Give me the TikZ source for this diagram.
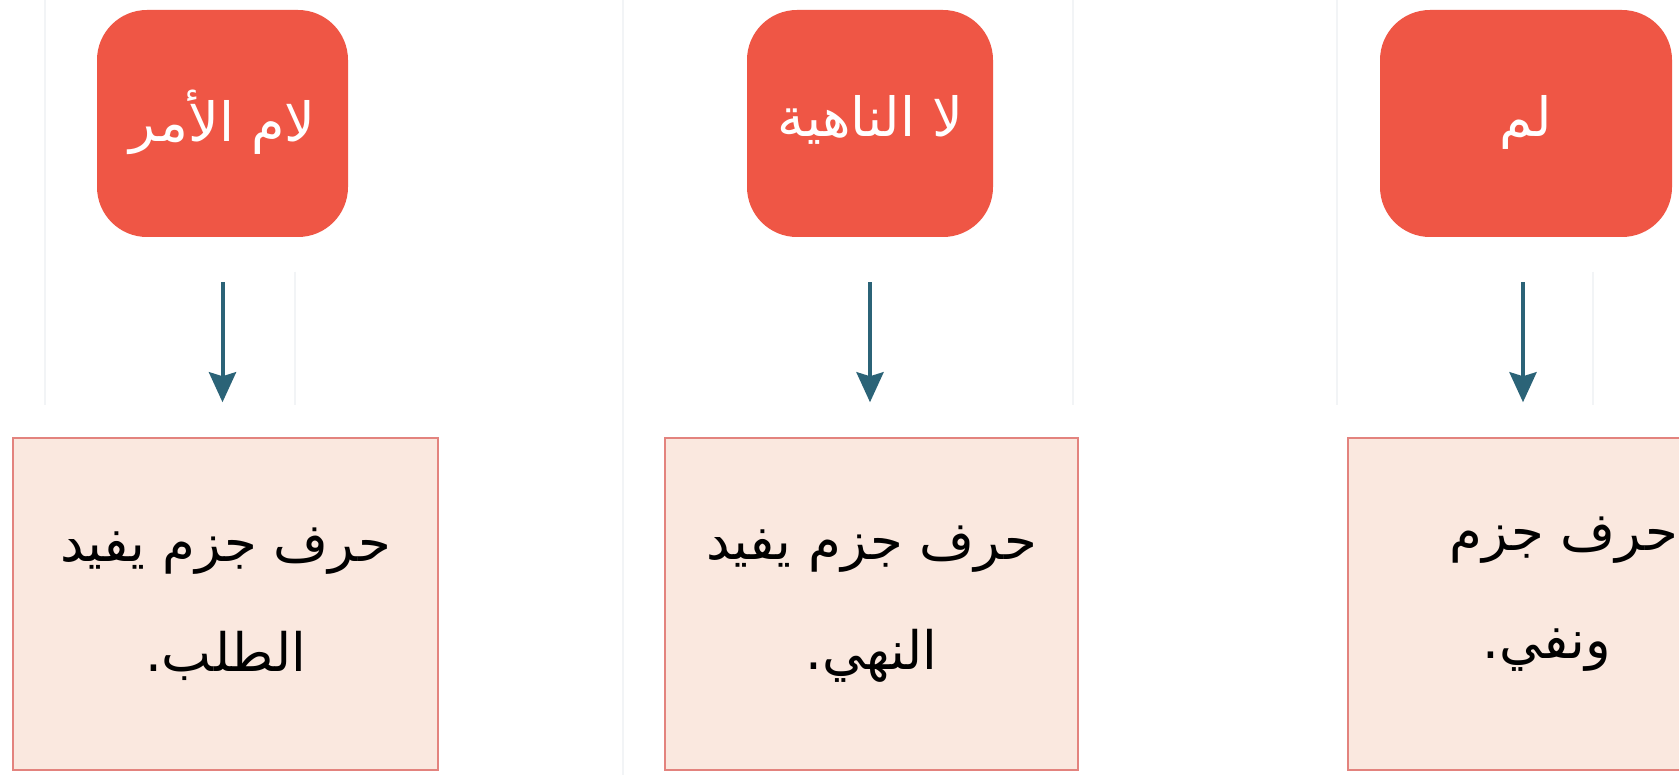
\documentclass[tikz,border=0pt]{standalone}
\usepackage{fontspec}
\newfontfamily\arabicfont[Script=Arabic]{DejaVu Sans}
\TeXXeTstate=1
\usetikzlibrary{arrows.meta}
\definecolor{topred}{HTML}{EF5645}
\definecolor{arrteal}{HTML}{2B6377}
\definecolor{boxfill}{HTML}{FAE8DF}
\definecolor{boxline}{HTML}{E3837E}
\definecolor{panel}{HTML}{F2F4F6}
\tikzset{
  topbox/.style={fill=topred, draw=none, rounded corners=50pt, minimum height=227pt, inner sep=0pt,
    text=white, font=\arabicfont\fontsize{54}{60}\selectfont},
  infotext/.style={font=\arabicfont\fontsize{53}{110}\selectfont},
  infobox/.style={fill=boxfill, draw=boxline, line width=1.5pt, minimum height=332pt, inner sep=0pt,
    text=black, align=center, infotext},
  flowarrow/.style={draw=arrteal, line width=4pt, -{Stealth[length=30pt,width=27pt,inset=4pt]}},
  panelline/.style={draw=panel, line width=1.5pt}
}
\begin{document}
\begin{tikzpicture}[x=1pt,y=-1pt]
\useasboundingbox (0,0) rectangle (1679,775);
\clip (0,0) rectangle (1679,775);
\fill[white] (0,0) rectangle (1679,775);
% faint panel lines
\draw[panelline] (45,0) -- (45,405);
\draw[panelline] (295,272) -- (295,405);
\draw[panelline] (623,0) -- (623,775);
\draw[panelline] (1073,0) -- (1073,405);
\draw[panelline] (1337,0) -- (1337,405);
\draw[panelline] (1593,272) -- (1593,405);
% top boxes
\node[topbox, minimum width=251pt] (t1) at (222.5,123.5) {\raisebox{15pt}{\beginR لام الأمر\endR}};
\node[topbox, minimum width=246pt] (t2) at (870,123.5) {\raisebox{15pt}{\beginR لا الناهية\endR}};
\node[topbox, minimum width=292pt] (t3) at (1526,123.5) {\raisebox{15pt}{\beginR لم\endR}};
% bottom boxes
\node[infobox, minimum width=425pt] (b1) at (225.5,604) {\beginR حرف جزم يفيد\endR\\\beginR الطلب.\endR};
\node[infobox, minimum width=413pt] (b2) at (871.5,604) {\beginR حرف جزم يفيد\endR\\\beginR النهي.\endR};
\node[infobox, minimum width=413pt] (b3) at (1554.5,604) {};
\node[anchor=east, infotext, inner xsep=0pt] (b3a) at (1678,540) {\beginR حرف جزم\endR};
\node[infotext] (b3b) at (1547,650) {\beginR ونفي.\endR};
% arrows
\draw[flowarrow, shorten <=45pt, shorten >=35pt] (t1.south) -- (t1.south |- b1.north);
\draw[flowarrow, shorten <=45pt, shorten >=35pt] (t2.south) -- (t2.south |- b2.north);
\draw[flowarrow, shorten <=45pt, shorten >=35pt] ([xshift=-3pt]t3.south) -- ([xshift=-3pt]t3.south |- b3.north);
\end{tikzpicture}
\end{document}
